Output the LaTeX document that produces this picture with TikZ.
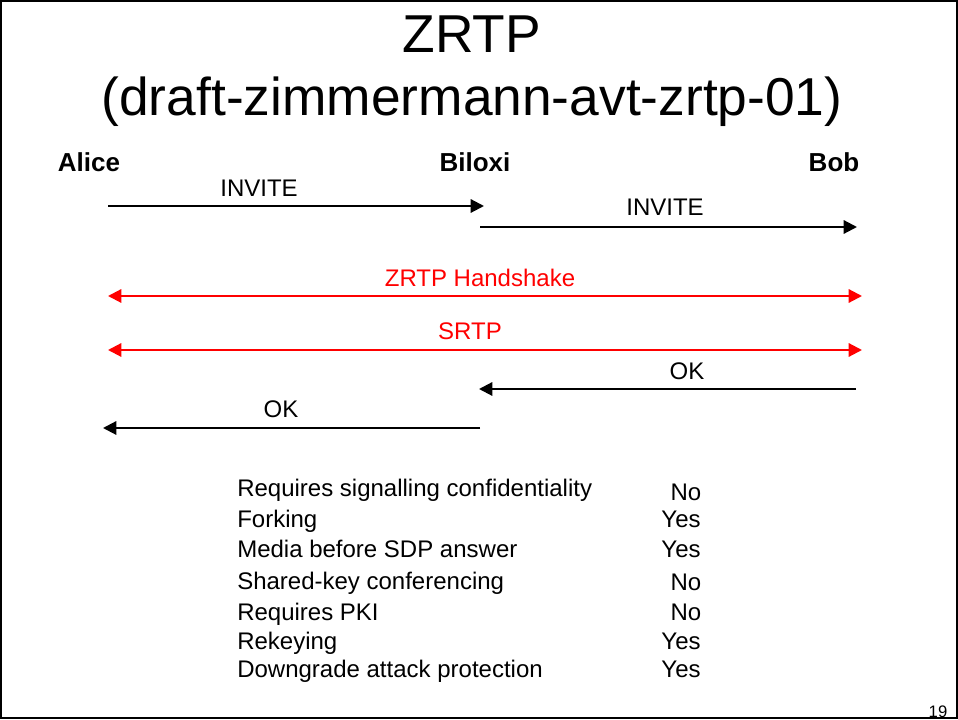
\documentclass[tikz,border=0pt]{standalone}
\usepackage{fontspec}
\setmainfont{Liberation Sans}
\usetikzlibrary{arrows.meta}
\begin{document}
\begin{tikzpicture}[x=0.75pt,y=-0.75pt,
  capbox/.style={inner sep=0pt,text height=#1,text depth=0pt},
  msg/.style={line width=1.6pt,-{Triangle[length=10pt,width=10pt]}},
  bothway/.style={line width=1.6pt,red,{Triangle[length=10pt,width=10pt]}-{Triangle[length=10pt,width=10pt]}},
  lbl/.style={capbox=12.9pt,font=\fontsize{18}{20}\selectfont},
  party/.style={capbox=14pt,font=\fontsize{19.5}{22}\selectfont\bfseries},
  row/.style={capbox=12.9pt,font=\fontsize{18}{20}\selectfont,anchor=west},
  val/.style={capbox=12.9pt,font=\fontsize{18}{20}\selectfont},
  heading/.style={capbox=28.6pt,font=\fontsize{40}{44}\selectfont}]
\useasboundingbox (0,0) rectangle (958,720);
\draw[line width=1.6pt] (1,1) rectangle (957,718);

% title
\node[heading] (t1) at (472,33) {ZRTP};
\node[heading] (t2) at (472,96) {(draft-zimmermann-avt-zrtp-01)};

% parties
\node[party] (alice) at (89,162) {Alice};
\node[party] (biloxi) at (475,162) {Biloxi};
\node[party] (bob) at (834,162) {Bob};

% end points of the message lines
\coordinate (a1) at (108,206); \coordinate (b1) at (484,206);
\coordinate (a2) at (480,227); \coordinate (b2) at (857,227);
\coordinate (a3) at (108,296); \coordinate (b3) at (862,296);
\coordinate (a4) at (108,350); \coordinate (b4) at (862,350);
\coordinate (a5) at (856,389); \coordinate (b5) at (479,389);
\coordinate (a6) at (480,428); \coordinate (b6) at (103,428);

\draw[msg] (a1) -- (b1);
\draw[msg] (a2) -- (b2);
\draw[bothway] (a3) -- (b3);
\draw[bothway] (a4) -- (b4);
\draw[msg] (a5) -- (b5);
\draw[msg] (a6) -- (b6);

\node[lbl] (l1) at (259,188) {INVITE};
\node[lbl] (l2) at (665,207) {INVITE};
\node[lbl,text=red] (l3) at (480,278) {ZRTP Handshake};
\node[lbl,text=red] (l4) at (470,331) {SRTP};
\node[lbl] (l5) at (687,371) {OK};
\node[lbl] (l6) at (281,409) {OK};

% comparison table
\node[row] (r1) at (237,488) {Requires signalling confidentiality};
\node[row] (r2) at (237,519) {Forking};
\node[row] (r3) at (237,549) {Media before SDP answer};
\node[row] (r4) at (237,581) {Shared-key conferencing};
\node[row] (r5) at (237,612) {Requires PKI};
\node[row] (r6) at (237,641) {Rekeying};
\node[row] (r7) at (237,669) {Downgrade attack protection};

\node[val] (v1) at (686,492) {No};
\node[val] (v2) at (681,519) {Yes};
\node[val] (v3) at (681,549) {Yes};
\node[val] (v4) at (686,582) {No};
\node[val] (v5) at (686,612) {No};
\node[val] (v6) at (681,641) {Yes};
\node[val] (v7) at (681,669) {Yes};

\node[capbox=9pt,font=\fontsize{12.5}{14}\selectfont] (pg) at (938,711) {19};
\end{tikzpicture}
\end{document}
